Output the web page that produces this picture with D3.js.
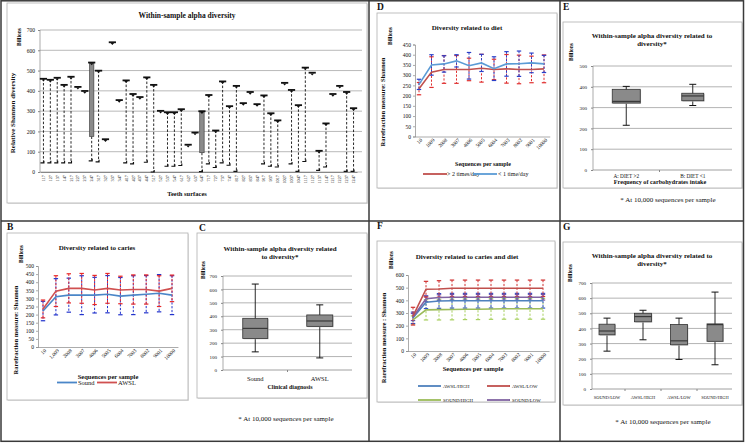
<!DOCTYPE html>
<html><head><meta charset="utf-8">
<script src="https://cdn.jsdelivr.net/npm/d3@7"></script>
<style>body{margin:0;background:#fff}svg{display:block}text{font-family:"Liberation Serif","Times New Roman",serif;fill:#111}</style>
</head><body><svg id="c" width="745" height="443"></svg>
<script>
// ---------- DATA ----------
const teeth = ["117","127","137","147","217","227","237","247","317","327","337","347","417","427","437","447","517","527","537","547","617","627","637","647","717","727","737","747","817","827","837","847","917","937","1017","1027","1037","1047","1117","1127","1137","1147","1217","1227","1237","1247"];
const aHigh = [460,455,465,430,470,420,400,540,500,162,640,355,452,385,370,467,430,302,295,295,310,135,195,300,380,205,447,325,425,340,395,335,378,290,255,440,405,330,515,490,105,240,385,425,395,315];
const aLow  = [45,45,45,45,45,null,null,55,50,null,null,null,45,40,null,48,0,null,28,28,32,null,null,2,40,22,45,33,3,null,null,null,40,28,25,null,40,3,52,null,8,25,null,null,3,3];
const aBarLow = [null,null,null,null,null,null,null,175,null,null,null,null,null,null,null,null,null,null,null,null,null,null,null,95,null,null,null,null,null,null,null,null,null,null,null,null,null,null,null,null,null,null,null,null,null,null];

const seqB = ["10","1,009","2008","3007","4006","5005","6004","7003","8002","9001","10000"];
const seqD = ["10","1009","2008","3007","4006","5005","6004","7003","8002","9001","10000"];

const cariesSound   = [222,310,320,320,320,326,314,320,326,332,320];
const cariesSoundSd = [60,112,105,120,110,115,115,120,115,115,120];
const cariesAwsl    = [235,345,362,362,352,362,352,355,355,345,362];
const cariesAwslSd  = [55,95,90,92,90,92,85,90,90,95,82];

const dietMore   = [234,315,328,328,328,334,328,331,328,328,331];   // > 2 times/day
const dietMoreSd = [30,75,68,68,55,68,50,70,70,65,68];
const dietLess   = [255,350,355,370,346,360,332,355,356,360,355];   // < 1 time/day
const dietLessSd = [25,50,40,30,65,42,58,60,62,48,42];

const fAwslHigh   = [262,385,395,397,397,397,397,397,397,397,397];
const fAwslHighSd = [45,50,58,58,58,58,58,58,58,58,58];
const fAwslLow    = [275,488,490,495,495,495,495,495,495,495,495];
const fAwslLowSd  = [70,62,65,65,65,65,65,65,65,65,65];
const fSoundHigh  = [245,325,327,328,330,330,332,333,333,333,333];
const fSoundHighSd= [32,80,82,82,82,82,82,82,82,82,82];
const fSoundLow   = [268,412,422,424,424,424,424,424,424,424,424];
const fSoundLowSd = [28,22,22,22,22,22,22,22,22,22,22];

const cCats = ["Sound","AWSL"];
const cMin = [135,90], cQ1 = [235,325], cMed = [310,365], cQ3 = [385,410], cMax = [640,485];

const eCats = ["A: DIET >2","B: DIET <1"];
const eMin = [215,310], eQ1 = [322,333], eMed = [330,356], eQ3 = [388,369], eMax = [402,412];

const gCats = ["SOUND/LOW","AWSL/HIGH","AWSL/LOW","SOUND/HIGH"];
const gMin = [250,325,195,160], gQ1 = [358,444,292,315], gMed = [383,478,318,425], gQ3 = [428,500,426,430], gMax = [468,520,468,640];

// ---------- DRAW ----------
const svg = d3.select("#c");
const BLUE="#4f81bd", RED="#c0504d", GREEN="#9bbb59", PURPLE="#8064a2";

function txt(x,y,s,o={}) {
  const t = svg.append("text").attr("x",x).attr("y",y).text(s)
    .attr("font-size",o.size||7).attr("text-anchor",o.anchor||"middle")
    .attr("font-weight",o.bold?"bold":"normal");
  if (o.rot) t.attr("transform",`rotate(${o.rot},${x},${y})`).attr("dominant-baseline","middle");
  return t;
}
function frame(x,y,w,h){
  svg.append("rect").attr("x",x+1).attr("y",y+1).attr("width",w).attr("height",h).attr("fill","#e4e4e4");
  svg.append("rect").attr("x",x).attr("y",y).attr("width",w).attr("height",h).attr("fill","#fff").attr("stroke","#b0b0b0").attr("stroke-width",0.8);
}

// panel frames
frame(7,3,360,200);
frame(7,233,181,167);
frame(197,233,170,165);
frame(377,13,180,175);
frame(563,22,179,166);
frame(377,241,178,161);
frame(563,242,179,163);

// outer dividers
const dv = svg.append("g").attr("stroke","#3a3a3a").attr("stroke-width",1.5).attr("fill","none");
dv.append("rect").attr("x",1).attr("y",0.8).attr("width",742.5).attr("height",440.5);
dv.append("line").attr("x1",369).attr("x2",369).attr("y1",0).attr("y2",441);
dv.append("line").attr("x1",560).attr("x2",560).attr("y1",0).attr("y2",441);
dv.append("line").attr("x1",1).attr("x2",744).attr("y1",221).attr("y2",221);

// panel letters
[["B",7,230],["C",199,231],["D",377,10],["E",563,10],["F",377,229],["G",563,230]].forEach(d=>txt(d[1],d[2],d[0],{size:9.5,bold:true,anchor:"start"}));

// ---------- Panel A ----------
(function(){
  const x = d3.scaleBand().domain(teeth).range([40,357]);
  const y = d3.scaleLinear().domain([0,700]).range([172,30]);
  const g = svg.append("g");
  d3.range(0,701,100).forEach(v=>{
    g.append("line").attr("x1",40).attr("x2",362).attr("y1",y(v)).attr("y2",y(v)).attr("stroke","#9a9a9a").attr("stroke-width",0.7);
  });
  g.append("line").attr("x1",40).attr("x2",40).attr("y1",y(700)).attr("y2",y(0)).attr("stroke","#888").attr("stroke-width",0.7);
  const ax = g.append("g").attr("transform","translate(40,0)").call(d3.axisLeft(y).tickValues(d3.range(0,701,100)).tickSize(2).tickPadding(3));
  ax.select(".domain").remove();
  ax.selectAll("line").attr("stroke","#888");
  ax.selectAll("text").attr("font-size",5.5).attr("font-family","Liberation Serif");
  const xa = g.append("g").attr("transform","translate(0,172)").call(d3.axisBottom(x).tickSize(0).tickPadding(3));
  xa.select(".domain").attr("stroke","#888");
  xa.selectAll("text").attr("font-size",4.3).attr("font-family","Liberation Serif").attr("fill","#333")
    .attr("text-anchor","end").attr("transform","rotate(-90)").attr("dy","0.35em").attr("y",0).attr("x",-3);
  teeth.forEach((t,i)=>{
    const cx = x(t)+x.bandwidth()/2;
    const hi = aHigh[i], lo = aLow[i], bl = aBarLow[i];
    const start = bl!=null ? bl : hi;
    if (lo!=null) {
      g.append("line").attr("x1",cx).attr("x2",cx).attr("y1",y(start)).attr("y2",y(lo)).attr("stroke","#111").attr("stroke-width",0.9).attr("stroke-dasharray","2.5,1.8");
      g.append("path").attr("d",`M${cx-3},${y(lo)}H${cx+0.5}V${y(lo)-2}`).attr("stroke","#111").attr("fill","none").attr("stroke-width",1.1);
    }
    if (bl!=null) {
      g.append("rect").attr("x",cx-2.2).attr("width",4.4).attr("y",y(hi)).attr("height",y(bl)-y(hi)).attr("fill","#8a8a8a").attr("stroke","#333").attr("stroke-width",0.6);
    }
    g.append("rect").attr("x",cx-3.6).attr("width",7.2).attr("y",y(hi)-0.8).attr("height",1.8).attr("fill","#111");
    g.append("path").attr("d",`M${cx-1.8},${y(hi)+0.8}L${cx+1.8},${y(hi)+0.8}L${cx},${y(hi)+2.8}Z`).attr("fill","#111");
  });
  txt(187,18,"Within-sample alpha diversity",{size:7.5,bold:true});
  txt(20,37,"Billions",{size:5.5,bold:true,rot:-90});
  txt(13,113,"Relative Shannon diversity",{size:7,bold:true,rot:-90});
  txt(187,196,"Teeth surfaces",{size:6.5,bold:true});
})();

// ---------- line chart helper ----------
function lineChart(cfg){
  const g = svg.append("g");
  const x = d3.scalePoint().domain(cfg.labels).range([cfg.x0,cfg.x1]);
  const y = d3.scaleLinear().domain([0,cfg.ymax]).range([cfg.yb,cfg.yt]);
  const step = (cfg.x1-cfg.x0)/(cfg.labels.length-1);
  const ax = g.append("g").attr("transform",`translate(${cfg.axisX},0)`).call(d3.axisLeft(y).tickValues(d3.range(0,cfg.ymax+1,cfg.step)).tickSize(2).tickPadding(2));
  ax.selectAll("line,path").attr("stroke","#888").attr("stroke-width",0.7);
  ax.selectAll("text").attr("font-size",5.5).attr("font-family","Liberation Serif");
  const xa = g.append("g").attr("transform",`translate(0,${cfg.yb})`).call(d3.axisBottom(x).tickSize(0).tickPadding(0));
  xa.select(".domain").attr("d",`M${cfg.axisX},0.5H${cfg.x1+step/2}`).attr("stroke","#888").attr("stroke-width",0.7);
  xa.selectAll("text").attr("font-size",5.2).attr("font-family","Liberation Serif")
    .attr("text-anchor","end").attr("dy",0).attr("y",0).attr("transform","translate(3,4) rotate(-45)");
  cfg.series.forEach(s=>{
    s.vals.forEach((v,i)=>{
      const cx = x(cfg.labels[i]);
      const hi = y(v+s.sd[i]), lo = y(v-s.sd[i]);
      g.append("line").attr("x1",cx).attr("x2",cx).attr("y1",hi).attr("y2",lo).attr("stroke",s.err).attr("stroke-width",1).attr("stroke-dasharray","2.2,1.6");
      g.append("line").attr("x1",cx-2.2).attr("x2",cx+2.2).attr("y1",hi).attr("y2",hi).attr("stroke",s.err).attr("stroke-width",1.2);
      g.append("line").attr("x1",cx-2.2).attr("x2",cx+2.2).attr("y1",lo).attr("y2",lo).attr("stroke",s.err).attr("stroke-width",1.2);
    });
  });
  cfg.series.forEach(s=>{
    g.append("path").datum(s.vals).attr("fill","none").attr("stroke",s.line).attr("stroke-width",1.6)
      .attr("d",d3.line().x((d,i)=>x(cfg.labels[i])).y(d=>y(d)));
  });
  return {x,y};
}

// ---------- Panel B ----------
lineChart({labels:seqB,x0:43,x1:172,axisX:38,yb:347,yt:266,ymax:500,step:50,
  series:[{vals:cariesSound,sd:cariesSoundSd,line:"#4a86c8",err:"#2233cc"},
          {vals:cariesAwsl,sd:cariesAwslSd,line:"#d05050",err:"#e82828"}]});
txt(97,250,"Diversity related to caries",{size:7,bold:true});
txt(22,254,"Billions",{size:5.5,bold:true,rot:-90});
txt(17,330,"Rarefraction measure: Shannon",{size:6.5,bold:true,rot:-90});
txt(108,379,"Sequences per sample",{size:6.5,bold:true});
svg.append("line").attr("x1",57).attr("x2",77).attr("y1",382.5).attr("y2",382.5).attr("stroke","#4a86c8").attr("stroke-width",1.8);
txt(78,385,"Sound",{size:6.5,anchor:"start"});
svg.append("line").attr("x1",97).attr("x2",117).attr("y1",382.5).attr("y2",382.5).attr("stroke","#d05050").attr("stroke-width",1.8);
txt(118,385,"AWSL",{size:6.5,anchor:"start"});

// ---------- Panel D ----------
lineChart({labels:seqD,x0:419,x1:544,axisX:415,yb:136.5,yt:44.5,ymax:450,step:50,
  series:[{vals:dietMore,sd:dietMoreSd,line:"#c0504d",err:"#e03030"},
          {vals:dietLess,sd:dietLessSd,line:"#5b9bd5",err:"#2a3fc8"}]});
txt(467,30,"Diversity related to diet",{size:7,bold:true});
txt(391,36,"Billions",{size:5.5,bold:true,rot:-90});
txt(384,102,"Rarefraction measure: Shannon",{size:6.5,bold:true,rot:-90});
txt(483,166,"Sequences per sample",{size:6,bold:true});
svg.append("line").attr("x1",423).attr("x2",447).attr("y1",174).attr("y2",174).attr("stroke","#c0504d").attr("stroke-width",1.8);
txt(447,176,"> 2 times/day",{size:6,anchor:"start"});
svg.append("line").attr("x1",473).attr("x2",497).attr("y1",174).attr("y2",174).attr("stroke","#5b9bd5").attr("stroke-width",1.8);
txt(498,176,"< 1 time/day",{size:6,anchor:"start"});

// ---------- Panel F ----------
lineChart({labels:seqD,x0:413,x1:543,axisX:408,yb:351,yt:275,ymax:600,step:100,
  series:[{vals:fSoundHigh,sd:fSoundHighSd,line:GREEN,err:"#a8d060"},
          {vals:fAwslHigh,sd:fAwslHighSd,line:BLUE,err:"#3050c8"},
          {vals:fSoundLow,sd:fSoundLowSd,line:PURPLE,err:"#7050a8"},
          {vals:fAwslLow,sd:fAwslLowSd,line:RED,err:"#d03030"}]});
txt(467,259,"Diversity related to caries and diet",{size:7,bold:true});
txt(392,260,"Billions",{size:5.5,bold:true,rot:-90});
txt(385,338,"Rarefraction measure : Shannon",{size:6.5,bold:true,rot:-90});
txt(473,371,"Sequences per sample",{size:6.5,bold:true});
[[418,386,BLUE,"AWSL/HIGH"],[487,386,RED,"AWSL/LOW"],[418,400,GREEN,"SOUND/HIGH"],[487,400,PURPLE,"SOUND/LOW"]].forEach(d=>{
  svg.append("line").attr("x1",d[0]).attr("x2",d[0]+23).attr("y1",d[1]).attr("y2",d[1]).attr("stroke",d[2]).attr("stroke-width",1.8);
  txt(d[0]+25,d[1]+1.8,d[3],{size:4.8,anchor:"start"});
});

// ---------- box chart helper ----------
function boxChart(cfg){
  const g = svg.append("g");
  const x = d3.scaleBand().domain(cfg.cats).range([cfg.bx0,cfg.bx1]);
  const y = d3.scaleLinear().domain([0,cfg.ymax]).range([cfg.yb,cfg.yt]);
  d3.range(0,cfg.ymax+1,100).forEach(v=>{
    g.append("line").attr("x1",cfg.gx0).attr("x2",cfg.gx1).attr("y1",y(v)).attr("y2",y(v)).attr("stroke",v===0?"#888":"#a0a0a0").attr("stroke-width",0.8);
  });
  g.append("line").attr("x1",cfg.gx0).attr("x2",cfg.gx0).attr("y1",y(cfg.ymax)).attr("y2",y(0)).attr("stroke","#888").attr("stroke-width",0.7);
  const ax = g.append("g").attr("transform",`translate(${cfg.gx0},0)`).call(d3.axisLeft(y).tickValues(d3.range(0,cfg.ymax+1,100)).tickSize(2).tickPadding(4));
  ax.select(".domain").remove();
  ax.selectAll("line").attr("stroke","#888");
  ax.selectAll("text").attr("font-size",5).attr("font-family","Liberation Serif");
  const xa = g.append("g").attr("transform",`translate(0,${cfg.yb})`).call(d3.axisBottom(x).tickSize(0).tickPadding(cfg.lpad||6));
  xa.select(".domain").remove();
  xa.selectAll("text").attr("font-size",cfg.lsize||6.5).attr("font-family","Liberation Serif");
  cfg.cats.slice(1).forEach(c=>{
    g.append("line").attr("x1",x(c)).attr("x2",x(c)).attr("y1",cfg.yb).attr("y2",cfg.yb+2).attr("stroke","#888");
  });
  cfg.cats.forEach((c,i)=>{
    const cx = x(c)+x.bandwidth()/2, w = cfg.bw[i];
    g.append("line").attr("x1",cx).attr("x2",cx).attr("y1",y(cfg.max[i])).attr("y2",y(cfg.min[i])).attr("stroke","#111").attr("stroke-width",0.9);
    [cfg.max[i],cfg.min[i]].forEach(v=>g.append("line").attr("x1",cx-3.5).attr("x2",cx+3.5).attr("y1",y(v)).attr("y2",y(v)).attr("stroke","#111").attr("stroke-width",1));
    g.append("rect").attr("x",cx-w/2+0.8).attr("y",y(cfg.q3[i])+0.8).attr("width",w).attr("height",y(cfg.q1[i])-y(cfg.q3[i])).attr("fill","#bdbdbd");
    g.append("rect").attr("x",cx-w/2).attr("y",y(cfg.q3[i])).attr("width",w).attr("height",y(cfg.q1[i])-y(cfg.q3[i])).attr("fill","#8a8a8a").attr("stroke","#333").attr("stroke-width",0.8);
    g.append("line").attr("x1",cx-w/2).attr("x2",cx+w/2).attr("y1",y(cfg.med[i])).attr("y2",y(cfg.med[i])).attr("stroke","#333").attr("stroke-width",1.1);
  });
}

// ---------- Panel C ----------
boxChart({cats:cCats,min:cMin,q1:cQ1,med:cMed,q3:cQ3,max:cMax,bx0:223,bx1:352,gx0:223,gx1:352,yb:370,yt:276,ymax:700,bw:[25,26],lsize:6.5,lpad:6});
txt(280,251,"Within-sample alpha diversity related",{size:7,bold:true});
txt(280,259,"to diversity*",{size:7,bold:true});
txt(204,270,"Billions",{size:5.5,bold:true,rot:-90});
txt(290,389,"Clinical diagnosis",{size:6,bold:true});
txt(286,421,"* At 10,000 sequences per sample",{size:7});

// ---------- Panel E ----------
boxChart({cats:eCats,min:eMin,q1:eQ1,med:eMed,q3:eQ3,max:eMax,bx0:593,bx1:726,gx0:593,gx1:732,yb:170,yt:66,ymax:500,bw:[28,22],lsize:5.3,lpad:4});
txt(652,38,"Within-sample alpha diversity related to",{size:7,bold:true});
txt(652,46,"diversity*",{size:7,bold:true});
txt(572,52,"Billions",{size:5.5,bold:true,rot:-90});
txt(660,184,"Frequency of carbohydrates intake",{size:6.2,bold:true});
txt(668,202,"* At 10,000 sequences per sample",{size:7});

// ---------- Panel G ----------
boxChart({cats:gCats,min:gMin,q1:gQ1,med:gMed,q3:gQ3,max:gMax,bx0:589,bx1:733,gx0:592,gx1:732,yb:389,yt:283,ymax:700,bw:[16,17,17,16],lsize:4.4,lpad:7});
txt(652,258,"Within-sample alpha diversity related to",{size:7,bold:true});
txt(652,266,"diversity*",{size:7,bold:true});
txt(571,273,"Billions",{size:5.5,bold:true,rot:-90});
txt(663,424,"* At 10,000 sequences per sample",{size:7});
</script></body></html>
